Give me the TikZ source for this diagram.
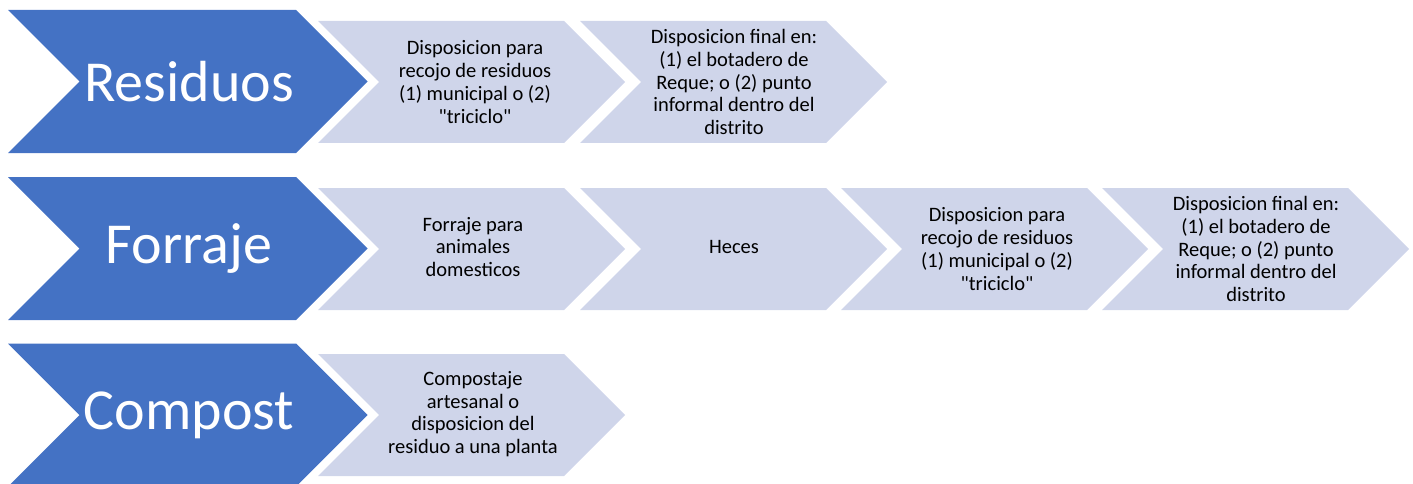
\documentclass[tikz,border=0pt]{standalone}
\usepackage{fontspec}
\setmainfont{Carlito}
\definecolor{chevdark}{HTML}{4472C4}
\definecolor{chevlight}{HTML}{CFD5EA}
\tikzset{
  darkchev/.style={fill=chevdark, draw=none},
  lightchev/.style={fill=chevlight, draw=none},
  headtext/.style={text=white, font=\fontsize{58}{62}\selectfont},
  steptext/.style={text=black, align=center, font=\fontsize{20.5}{22.8}\selectfont}
}
\begin{document}
\begin{tikzpicture}[x=1pt, y=-1pt]
    \useasboundingbox (0, 0) rectangle (1413, 484);
    % dark chevrons
    \foreach \y in {10, 177, 343.5}
      \fill[darkchev] (8, \y) -- ++(288, 0) -- ++(71.5, 71.5) -- ++(-71.5, 71.5)
        -- ++(-288, 0) -- ++(71.5, -71.5) -- cycle;
    % light chevrons
    \foreach \x/\y in {318/21, 580/21, 318/188, 580/188, 841/188, 1102/188, 318/354}
      \fill[lightchev] (\x, \y) -- ++(246, 0) -- ++(61, 61) -- ++(-61, 61)
        -- ++(-246, 0) -- ++(61, -61) -- cycle;
    \node[headtext] (res) at (189, 81.5) {Residuos};
    \node[headtext] (forr) at (189, 248.5) {Forraje};
    \node[headtext] (comp) at (189, 415) {Compost};
    \node[steptext] (resA) at (475, 82) {Disposicion para\\recojo de residuos\\(1) municipal o (2)\\\textquotedbl triciclo\textquotedbl};
    \node[steptext] (resB) at (734, 82) {Disposicion final en:\\(1) el botadero de\\Reque; o (2) punto\\informal dentro del\\distrito};
    \node[steptext] (forrA) at (473, 247) {Forraje para\\animales\\domesticos};
    \node[steptext] (forrB) at (734, 247) {Heces};
    \node[steptext] (forrC) at (997, 249) {Disposicion para\\recojo de residuos\\(1) municipal o (2)\\\textquotedbl triciclo\textquotedbl};
    \node[steptext] (forrD) at (1256, 249) {Disposicion final en:\\(1) el botadero de\\Reque; o (2) punto\\informal dentro del\\distrito};
    \node[steptext] (compA) at (473, 414) {Compostaje\\artesanal o\\disposicion del\\residuo a una planta};
\end{tikzpicture}
\end{document}
